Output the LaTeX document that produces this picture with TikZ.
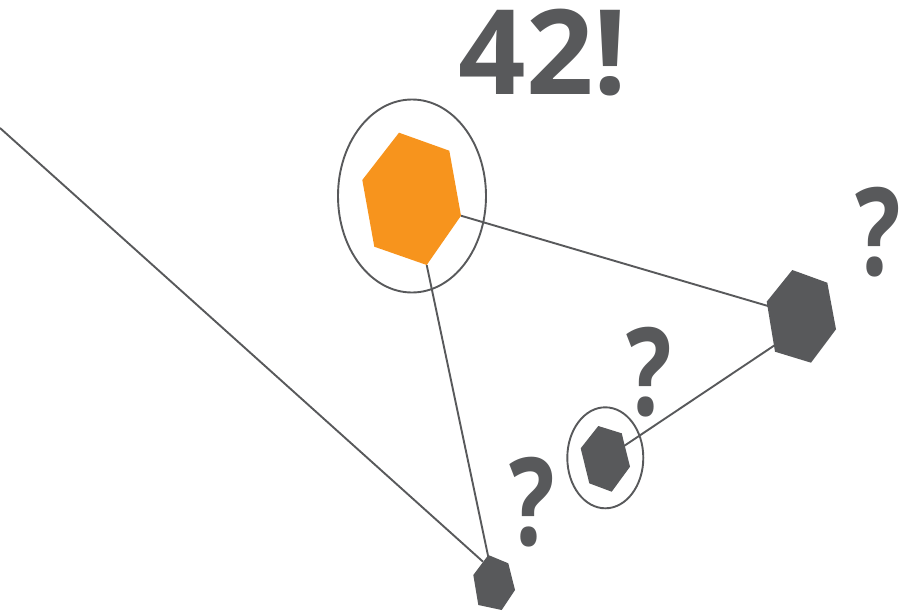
\documentclass[tikz,border=0pt]{standalone}
\usepackage{fontspec}
\usetikzlibrary{shapes.geometric}
\setmainfont{Open Sans}
\definecolor{dg}{HTML}{58595B}
\definecolor{org}{HTML}{F7941D}
\begin{document}
\begin{tikzpicture}[x=1pt,y=-1pt,
  link/.style={draw=dg,line width=1.9pt},
  ring/.style={draw=dg,line width=1.9pt},
  hexg/.style={fill=dg},
  hexo/.style={fill=org},
  qm/.style={text=dg,font=\bfseries\fontsize{122}{122}\selectfont,inner sep=0pt,anchor=base,xscale=0.78},
  big/.style={text=dg,font=\bfseries\fontsize{118}{118}\selectfont,inner sep=0pt,anchor=base}]
\useasboundingbox (0,0) rectangle (899,613);
% anchor coordinates
\coordinate (start) at (0,128);
\coordinate (oR) at (461,215.7);
\coordinate (oB) at (426.7,265);
\coordinate (gL) at (768,306);
\coordinate (gLL) at (775,345);
\coordinate (sR) at (624,446);
\coordinate (bT) at (488.3,557);
\coordinate (bL) at (483,561.7);
% connectors
\draw[link] (start) -- (bL);
\draw[link] (oR) -- (gL);
\draw[link] (oB) -- (bT);
\draw[link] (sR) -- (gLL);
% rings
\node[ring,ellipse,minimum width=148pt,minimum height=193pt,inner sep=0pt] (ringO) at (412,196) {};
\node[ring,ellipse,minimum width=76pt,minimum height=101pt,inner sep=0pt] (ringS) at (605.3,457.8) {};
% hexagons
\path[hexo] (399,132.7) -- (449.3,150.7) -- (461,215.7) -- (426.7,265) -- (374.3,246.7) -- (362.3,180) -- cycle;
\path[hexg] (792.3,270) -- (827.3,282.7) -- (836,329.3) -- (811,362.7) -- (775,351.7) -- (766.7,301.7) -- cycle;
\path[hexg] (598.3,426) -- (621.7,433.3) -- (630,466.7) -- (611.7,491.7) -- (589.3,483.3) -- (580.7,448.3) -- cycle;
\path[hexg] (488.3,555) -- (508.3,563.3) -- (515,590) -- (501.7,610) -- (478.3,605) -- (473.3,575) -- cycle;
% texts
\node[big] (t42) at (543,94) {42!};
\node[qm] (q1) at (878,275) {?};
\node[qm] (q2) at (649,415) {?};
\node[qm] (q3) at (532.5,545) {?};
\end{tikzpicture}
\end{document}
